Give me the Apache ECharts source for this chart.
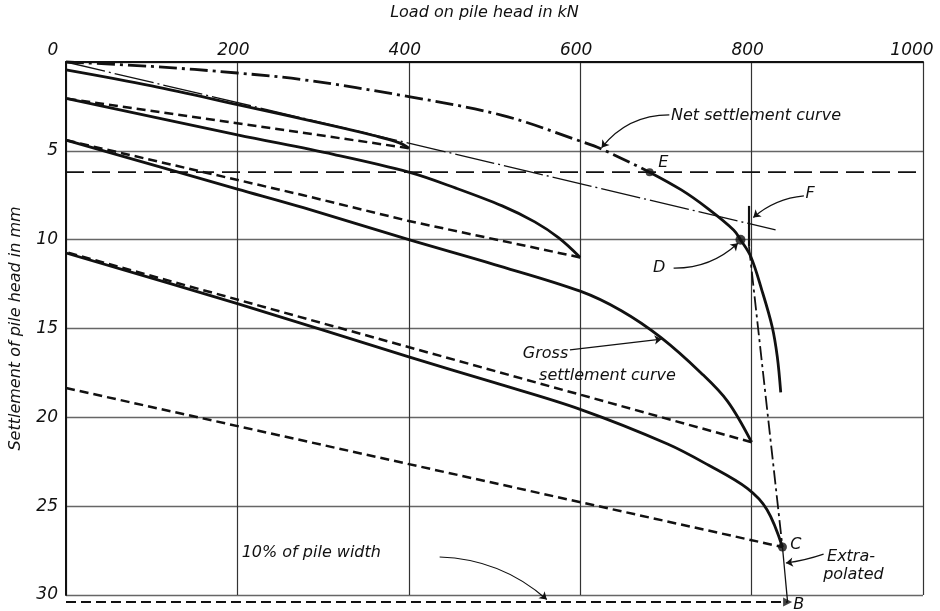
<!DOCTYPE html>
<html><head><meta charset="utf-8">
<script src="https://cdn.jsdelivr.net/npm/echarts@6/dist/echarts.min.js"></script>
<style>html,body{margin:0;padding:0;background:#fff}#c{width:940px;height:611px}</style>
</head><body><div id="c"></div>
<script>
// ---- axis ticks and titles ----
const xTickValues = [0, 200, 400, 600, 800, 1000];
const yTickValues = [0, 5, 10, 15, 20, 25, 30];
const xAxisTitle = 'Load on pile head in kN';
const yAxisTitle = 'Settlement of pile head in mm';

// ---- curves: [load kN, settlement mm] ----
const netSettlementDashDot = [[0,0],[100,0.25],[200,0.62],[277,1.0],[400,1.95],[509,3.0],[600,4.45],[625,4.9],[681,6.2]];
const netSettlementSolid = [[681,6.2],[718,7.2],[749,8.25],[779,9.45],[787,10.0],[799,10.95],[812,12.85],[824,14.9],[830,16.6],[834,18.6]];
const cycle1Loading = [[0,0.45],[100,1.35],[200,2.4],[312,3.6],[360,4.15],[389,4.55],[400,4.85]];
const cycle1Unloading = [[400,4.85],[0,2.05]];
const cycle2Loading = [[0,2.05],[200,4.1],[312,5.2],[400,6.2],[455,7.1],[509,8.1],[547,9.0],[575,9.9],[600,11.0]];
const cycle2Unloading = [[600,11.0],[400,8.95],[277,7.5],[0,4.4]];
const cycle3Loading = [[0,4.4],[200,7.15],[277,8.2],[400,10.0],[500,11.4],[600,12.9],[648,14.0],[694,15.5],[741,17.5],[772,19.1],[800,21.4]];
const cycle3Unloading = [[800,21.4],[0,10.7]];
const cycle4Loading = [[0,10.75],[200,13.6],[400,16.6],[500,18.05],[600,19.55],[702,21.5],[750,22.7],[795,24.0],[818,25.2],[836,27.3]];
const reboundLineToC = [[0,18.35],[836,27.3]];
const extrapolatedCB = [[836,27.3],[842,30.4]];
const tenPercentWidthLine = [[0,30.4],[842,30.4]];
const settlementLevelE = [[0,6.2],[1000,6.2]];
const tangentLineToF = [[0,0],[828,9.45]];
const verticalAtF = [[797,8.1],[797,10.4]];
const lineDToC = [[797,10.4],[836,27.3]];
const pointE = [681,6.2];
const pointD = [787,10.0];
const pointC = [836,27.3];
const pointB = [842,30.4];

const FONT = 'DejaVu Sans';
const INK = '#111';

function line(data, width, type, extra) {
  return Object.assign({
    type: 'line', data: data, symbol: 'none', showSymbol: false, animation: false,
    smooth: false, clip: false,
    lineStyle: { color: INK, width: width, type: type || 'solid' }, z: 3
  }, extra || {});
}
const curved = { smooth: 0.35 };

const chart = echarts.init(document.getElementById('c'), null, { renderer: 'canvas' });

const leaders = [
  { coords: [[704, 2.98], [625, 4.82]], lineStyle: { curveness: -0.24 } },
  { coords: [[861, 7.54], [802, 8.75]], lineStyle: { curveness: -0.16 } },
  { coords: [[709, 11.6], [784, 10.2]], lineStyle: { curveness: -0.2 } },
  { coords: [[588, 16.2], [695, 15.6]], lineStyle: { curveness: 0 } },
  { coords: [[436, 27.86], [561, 30.25]], lineStyle: { curveness: 0.18 } },
  { coords: [[884, 27.7], [840, 28.2]], lineStyle: { curveness: 0.05 } }
];

const labelFont = { fontFamily: FONT, fontStyle: 'italic', fontSize: 17, color: INK };

const option = {
  animation: false,
  backgroundColor: '#fff',
  grid: { left: 61, top: 62, width: 862, height: 533, show: false },
  xAxis: {
    type: 'value', position: 'top', min: 0, max: 1000, interval: 200,
    name: xAxisTitle, nameLocation: 'middle', nameGap: 41,
    nameTextStyle: { fontFamily: FONT, fontStyle: 'italic', fontSize: 16, color: INK, padding: [0, 20, 0, 0] },
    axisLine: { show: true, onZero: false, lineStyle: { color: INK, width: 2 } },
    axisTick: { show: false },
    splitLine: { show: true, lineStyle: { color: '#333', width: 1.2 } },
    axisLabel: Object.assign({
      margin: 3,
      formatter: function (v) {
        if (xTickValues.indexOf(v) < 0) return '';
        if (v === 0) return '{z|0}';
        if (v === 1000) return '{k|1000}';
        return '{n|' + v + '}';
      },
      rich: {
        z: Object.assign({ padding: [0, 26, 0, 0] }, labelFont),
        k: Object.assign({ padding: [0, 22, 0, 0] }, labelFont),
        n: Object.assign({ padding: [0, 8, 0, 0] }, labelFont)
      }
    }, labelFont)
  },
  yAxis: {
    type: 'value', inverse: true, min: 0, max: 30, interval: 5,
    name: yAxisTitle, nameLocation: 'middle', nameGap: 42, nameRotate: 90,
    nameTextStyle: { fontFamily: FONT, fontStyle: 'italic', fontSize: 16, color: INK },
    axisLine: { show: true, onZero: false, lineStyle: { color: INK, width: 2 } },
    axisTick: { show: false },
    splitLine: { show: true, lineStyle: { color: '#666', width: 1.4 } },
    axisLabel: Object.assign({
      margin: 8,
      formatter: function (v) { return (v === 0 || yTickValues.indexOf(v) < 0) ? '' : String(v); }
    }, labelFont)
  },
  series: [
    line(settlementLevelE, 1.8, [18, 8]),
    line(tenPercentWidthLine, 2, [10, 5]),
    line(tangentLineToF, 1.3, [40, 4, 2, 4]),
    line(verticalAtF, 2.2, 'solid'),
    line(lineDToC, 1.8, [14, 4, 3, 4]),
    line(extrapolatedCB, 1.3, 'solid'),
    line(reboundLineToC, 2.5, [9, 5]),
    line(cycle1Unloading, 2.5, [9, 5]),
    line(cycle2Unloading, 2.5, [9, 5]),
    line(cycle3Unloading, 2.5, [9, 5]),
    line(cycle1Loading, 2.8, 'solid', curved),
    line(cycle2Loading, 2.8, 'solid', curved),
    line(cycle3Loading, 2.8, 'solid', curved),
    line(cycle4Loading, 2.8, 'solid', curved),
    line(netSettlementDashDot, 2.8, [18, 5, 3, 5], curved),
    line(netSettlementSolid, 2.8, 'solid', curved),
    {
      type: 'scatter', animation: false, clip: false, z: 5,
      itemStyle: { color: INK },
      data: [
        { value: pointE, symbolSize: 8 },
        { value: pointD, symbolSize: 10 },
        { value: pointC, symbolSize: 9 },
        { value: pointB, symbol: 'triangle', symbolRotate: -90, symbolSize: 9 }
      ]
    },
    {
      type: 'lines', coordinateSystem: 'cartesian2d', animation: false, clip: false, z: 4,
      polyline: false, symbol: ['none', 'arrow'], symbolSize: 7,
      lineStyle: { color: INK, width: 1.2, opacity: 1 },
      data: leaders
    }
  ]
};
chart.setOption(option);

const annotationTexts = [
  { text: 'Net settlement curve', at: [706, 3.05] },
  { text: 'E', at: [691, 5.68] },
  { text: 'F', at: [863, 7.43] },
  { text: 'D', at: [685, 11.6] },
  { text: 'Gross', at: [533, 16.43] },
  { text: 'settlement curve', at: [552, 17.67] },
  { text: '10% of pile width', at: [205, 27.63] },
  { text: 'C', at: [845, 27.18] },
  { text: 'Extra-', at: [888, 27.86] },
  { text: 'polated', at: [883.5, 28.87] },
  { text: 'B', at: [848.7, 30.56] }
];
const graphics = annotationTexts.map(function (a) {
  const p = chart.convertToPixel({ gridIndex: 0 }, a.at);
  return {
    type: 'text', x: p[0], y: p[1], z: 10,
    style: { text: a.text, fill: INK, font: 'italic 16px "' + FONT + '"', textAlign: 'left', textVerticalAlign: 'middle' }
  };
});
chart.setOption({ graphic: graphics });
</script>
</body></html>
